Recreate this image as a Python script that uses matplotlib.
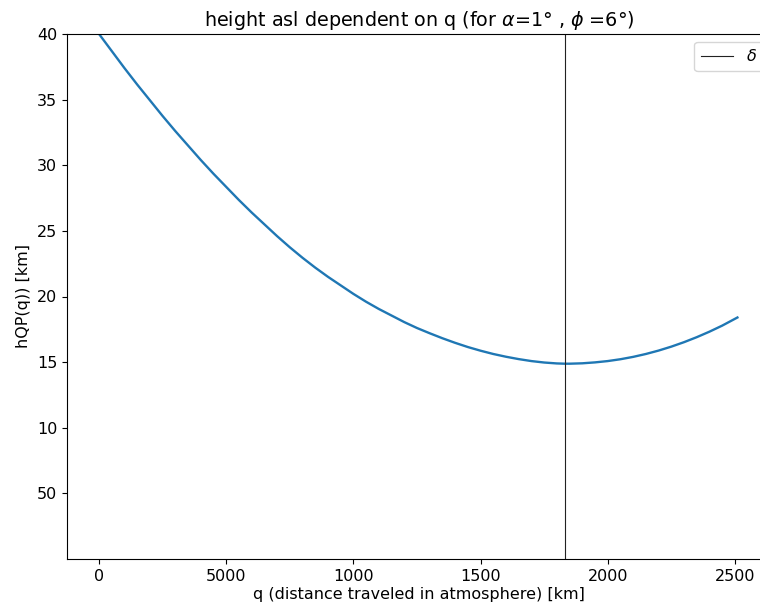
import matplotlib
matplotlib.use("Agg")
import matplotlib.pyplot as plt

# distance traveled q [km] and height asl [km]
q_km = [0, 50, 100, 150, 200, 250, 300, 350, 400, 450, 500, 550, 600, 650,
        700, 750, 800, 850, 900, 950, 1000, 1050, 1100, 1150, 1200, 1250,
        1300, 1350, 1400, 1450, 1500, 1550, 1600, 1650, 1700, 1750, 1800,
        1832, 1850, 1900, 1950, 2000, 2050, 2100, 2150, 2200, 2250, 2300,
        2350, 2400, 2450, 2510]
h_km = [40.0, 38.7, 37.4, 36.15, 34.95, 33.75, 32.6, 31.5, 30.4, 29.35,
        28.35, 27.35, 26.4, 25.5, 24.6, 23.75, 22.95, 22.2, 21.5, 20.85,
        20.2, 19.6, 19.05, 18.55, 18.05, 17.6, 17.2, 16.82, 16.47, 16.15,
        15.87, 15.62, 15.41, 15.23, 15.08, 14.97, 14.9,
        14.88, 14.88, 14.91, 14.98, 15.08, 15.22, 15.4, 15.62, 15.88, 16.18,
        16.52, 16.9, 17.32, 17.78, 18.4]
delta_q = 1832

x_ticks = [0, 500, 1000, 1500, 2000, 2500]
x_tick_labels = ["0", "5000", "1000", "1500", "2000", "2500"]
y_ticks = [40, 35, 30, 25, 20, 15, 10, 5]
y_tick_labels = ["40", "35", "30", "25", "20", "15", "10", "50"]

plt.rcParams["font.size"] = 11.5
fig = plt.figure(figsize=(7.6, 6.1), dpi=100)
ax = fig.add_axes([67 / 760, 51 / 610, 704 / 760, 525 / 610])
ax.plot(q_km, h_km, color="#1f77b4", lw=1.7)
ax.axvline(delta_q, color="#222222", lw=0.8, label=r"$\delta$")
ax.set_xlim(-126, 2642)
ax.set_ylim(0, 40)
ax.set_xticks(x_ticks)
ax.set_xticklabels(x_tick_labels)
ax.set_yticks(y_ticks)
ax.set_yticklabels(y_tick_labels)
ax.set_title(r"height asl dependent on q (for $\alpha$=1° , $\phi$ =6°)", fontsize=13.8)
ax.set_xlabel("q (distance traveled in atmosphere) [km]", labelpad=2)
ax.set_ylabel("hQP(q)) [km]")
ax.legend(loc="upper right")
fig.savefig("out.png", dpi=100)
